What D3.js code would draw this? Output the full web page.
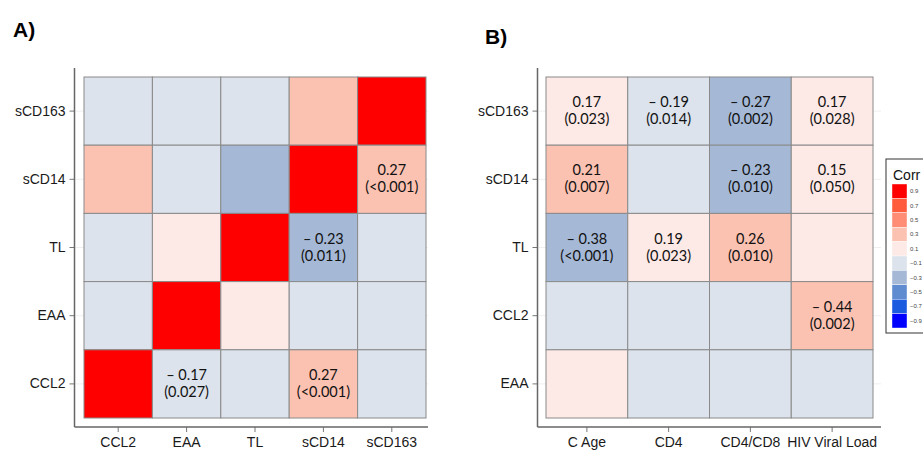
<!DOCTYPE html>
<html>
<head>
<meta charset="utf-8">
<script src="https://cdn.jsdelivr.net/npm/d3@7"></script>
<style>
  body { margin: 0; background: #fff; }
  svg { display: block; }
</style>
</head>
<body>
<div id="chart"></div>
<script>
// Correlation heatmaps, panels A and B

const rowsA = ["sCD163", "sCD14", "TL", "EAA", "CCL2"];
const colsA = ["CCL2", "EAA", "TL", "sCD14", "sCD163"];
// colour value per cell (row by row, top to bottom)
const corrA = [
  [-0.08, -0.08, -0.08, 0.30, 1.00],
  [0.30, -0.08, -0.25, 1.00, 0.27],
  [-0.08, 0.10, 1.00, -0.23, -0.05],
  [-0.08, 1.00, 0.10, -0.05, -0.05],
  [1.00, -0.17, -0.05, 0.27, -0.05]
];
const textA = [
  ["", "", "", "", ""],
  ["", "", "", "", "0.27|(<0.001)"],
  ["", "", "", "– 0.23|(0.011)", ""],
  ["", "", "", "", ""],
  ["", "– 0.17|(0.027)", "", "0.27|(<0.001)", ""]
];

const rowsB = ["sCD163", "sCD14", "TL", "CCL2", "EAA"];
const colsB = ["C Age", "CD4", "CD4/CD8", "HIV Viral Load"];
const corrB = [
  [0.17, -0.19, -0.27, 0.17],
  [0.21, -0.05, -0.23, 0.15],
  [-0.38, 0.19, 0.26, 0.10],
  [-0.05, -0.05, -0.05, 0.30],
  [0.10, -0.05, -0.05, -0.05]
];
const textB = [
  ["0.17|(0.023)", "– 0.19|(0.014)", "– 0.27|(0.002)", "0.17|(0.028)"],
  ["0.21|(0.007)", "", "– 0.23|(0.010)", "0.15|(0.050)"],
  ["– 0.38|(<0.001)", "0.19|(0.023)", "0.26|(0.010)", ""],
  ["", "", "", "– 0.44|(0.002)"],
  ["", "", "", ""]
];

const legendLabels = ["0.9", "0.7", "0.5", "0.3", "0.1", "−0.1", "−0.3", "−0.5", "−0.7", "−0.9"];
const legendColors = ["#ff0000", "#ff5b3d", "#ff8d75", "#fcc2b1", "#fde9e6",
                      "#dce3ec", "#a5b9d7", "#5f8bd0", "#1b5be0", "#0000ff"];

const color = d3.scaleThreshold()
    .domain([-0.8, -0.6, -0.4, -0.2, 0, 0.2, 0.4, 0.6, 0.8])
    .range(legendColors.slice().reverse());

const width = 923, height = 450;

const svg = d3.select("#chart")
    .append("svg")
    .attr("width", width)
    .attr("height", height);

function drawPanel(cfg) {
    const x = d3.scaleBand().domain(cfg.cols).range(cfg.xr);
    const y = d3.scaleBand().domain(cfg.rows).range(cfg.yr);
    const g = svg.append("g");

    // faint background grid
    g.selectAll("line.grid")
        .data(cfg.rows)
        .enter()
        .append("line")
        .attr("x1", cfg.axisX + 1).attr("x2", cfg.panelRight)
        .attr("y1", d => y(d) + y.bandwidth() / 2)
        .attr("y2", d => y(d) + y.bandwidth() / 2)
        .attr("stroke", "#efefef");

    const cells = [];
    cfg.rows.forEach((r, i) => cfg.cols.forEach((c, j) => {
        cells.push({row: r, col: c, v: cfg.corr[i][j], t: cfg.text[i][j]});
    }));

    g.selectAll("rect.cell")
        .data(cells)
        .enter()
        .append("rect")
        .attr("x", d => x(d.col))
        .attr("y", d => y(d.row))
        .attr("width", x.bandwidth())
        .attr("height", y.bandwidth())
        .attr("fill", d => color(d.v))
        .attr("stroke", "#8a8a8a")
        .attr("stroke-width", 1);

    const lab = g.selectAll("text.cell")
        .data(cells.filter(d => d.t))
        .enter()
        .append("text")
        .attr("text-anchor", "middle")
        .attr("font-family", "Lato, 'Open Sans', sans-serif")
        .attr("font-size", 14.5)
        .attr("fill", "#111");
    lab.append("tspan")
        .attr("x", d => x(d.col) + x.bandwidth() / 2)
        .attr("y", d => y(d.row) + y.bandwidth() / 2 - 4)
        .text(d => d.t.split("|")[0]);
    lab.append("tspan")
        .attr("x", d => x(d.col) + x.bandwidth() / 2)
        .attr("y", d => y(d.row) + y.bandwidth() / 2 + 13)
        .text(d => d.t.split("|")[1]);

    // axes
    const ax = g.append("g")
        .attr("transform", `translate(${cfg.axisX},0)`)
        .call(d3.axisLeft(y).tickSize(5).tickSizeOuter(0).tickPadding(4));
    const bx = g.append("g")
        .attr("transform", `translate(0,${cfg.axisY})`)
        .call(d3.axisBottom(x).tickSize(5).tickSizeOuter(0).tickPadding(5));
    [ax, bx].forEach(a => {
        a.select(".domain").remove();
        a.selectAll("line").attr("stroke", "#777");
        a.selectAll("text")
            .attr("font-family", "'Liberation Sans', Arial, sans-serif")
            .attr("font-size", 14)
            .attr("fill", "#1a1a1a");
    });

    g.append("line")
        .attr("x1", cfg.axisX).attr("x2", cfg.axisX)
        .attr("y1", cfg.panelTop).attr("y2", cfg.axisY)
        .attr("stroke", "#666").attr("stroke-width", 1.5);
    g.append("line")
        .attr("x1", cfg.axisX).attr("x2", cfg.panelRight)
        .attr("y1", cfg.axisY).attr("y2", cfg.axisY)
        .attr("stroke", "#666").attr("stroke-width", 1.5);

    svg.append("text")
        .attr("x", cfg.tagX).attr("y", cfg.tagY)
        .attr("font-family", "'Liberation Sans', Arial, sans-serif")
        .attr("font-weight", "bold")
        .attr("font-size", 21)
        .text(cfg.tag);
}

drawPanel({
    rows: rowsA, cols: colsA, corr: corrA, text: textA,
    xr: [84, 426], yr: [77, 418],
    axisX: 74.5, axisY: 427, panelTop: 68, panelRight: 428,
    tag: "A)", tagX: 13, tagY: 37
});

drawPanel({
    rows: rowsB, cols: colsB, corr: corrB, text: textB,
    xr: [546, 873], yr: [77, 418],
    axisX: 537.5, axisY: 427, panelTop: 68, panelRight: 881,
    tag: "B)", tagX: 485, tagY: 44
});

// legend
const leg = svg.append("g");
leg.append("rect")
    .attr("x", 886).attr("y", 159)
    .attr("width", 60).attr("height", 174)
    .attr("fill", "#fff")
    .attr("stroke", "#333").attr("stroke-width", 1);
leg.append("text")
    .attr("x", 893).attr("y", 180)
    .attr("font-family", "'Liberation Sans', Arial, sans-serif")
    .attr("font-size", 14)
    .attr("fill", "#111")
    .text("Corr");

const ly = d3.scaleBand().domain(legendLabels).range([184, 328]);
leg.selectAll("rect.sw")
    .data(legendLabels)
    .enter()
    .append("rect")
    .attr("x", 892).attr("y", d => ly(d))
    .attr("width", 15).attr("height", ly.bandwidth())
    .attr("fill", (d, i) => legendColors[i])
    .attr("stroke", "#fff").attr("stroke-width", 0.4);
leg.selectAll("text.sw")
    .data(legendLabels)
    .enter()
    .append("text")
    .attr("x", 910)
    .attr("y", d => ly(d) + ly.bandwidth() / 2 + 2)
    .attr("font-family", "'Liberation Sans', Arial, sans-serif")
    .attr("font-size", 6)
    .attr("fill", "#444")
    .text(d => d);
</script>
</body>
</html>
